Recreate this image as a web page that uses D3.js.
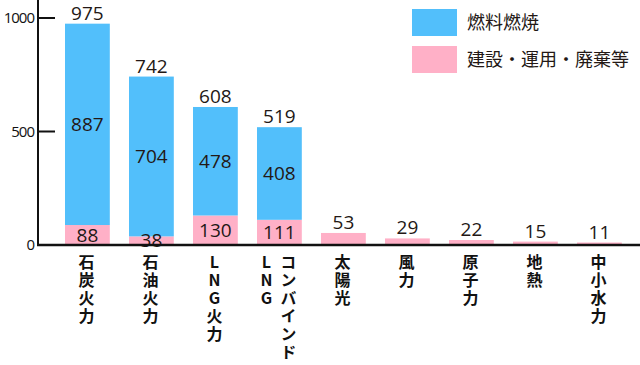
<!DOCTYPE html>
<html>
<head>
<meta charset="utf-8">
<script src="https://cdn.jsdelivr.net/npm/d3@7"></script>
<style>
  body { margin: 0; background: #fff; }
  svg { display: block; }
</style>
</head>
<body>
<div id="chart"></div>
<script>
// data
const categories = ['石炭火力', '石油火力', 'LNG火力', 'コンバインドLNG', '太陽光', '風力', '原子力', '地熱', '中小水力']
// vertical label columns, right column first (tategaki)
const labelColumns = [['石炭火力'], ['石油火力'], ['LNG火力'], ['コンバインド', 'LNG'], ['太陽光'], ['風力'], ['原子力'], ['地熱'], ['中小水力']]
const construction = [88, 38, 130, 111, 53, 29, 22, 15, 11]
const fuel = [887, 704, 478, 408, 0, 0, 0, 0, 0]
const totals = [975, 742, 608, 519, 53, 29, 22, 15, 11]
const yTicks = [0, 500, 1000]
const seriesNames = ['燃料燃焼', '建設・運用・廃棄等']

const width = 640
const height = 365
const blue = '#52bffb'
const pink = '#ffb0c7'
const numFont = '"Open Sans", "Noto Sans", sans-serif'
const jpFont = '"Noto Sans CJK JP", sans-serif'

const svg = d3.select('#chart').append('svg')
    .attr('width', width)
    .attr('height', height)

const x = d3.scaleBand()
    .domain(categories)
    .range([55.4, 55.4 + 64 * 9])
    .paddingInner(0.3)
    .paddingOuter(0.15)

const y = d3.scaleLinear()
    .domain([0, 1000])
    .range([245, 18])

const rows = categories.map((c, i) => ({ cat: c, construction: construction[i], fuel: fuel[i] }))
const stacked = d3.stack().keys(['construction', 'fuel'])(rows)
const colors = { construction: pink, fuel: blue }

// bars
svg.append('g')
    .selectAll('g')
    .data(stacked)
    .join('g')
    .attr('fill', d => colors[d.key])
    .selectAll('rect')
    .data(d => d.filter(s => s[1] > s[0]))
    .join('rect')
    .attr('x', d => x(d.data.cat))
    .attr('width', x.bandwidth())
    .attr('y', d => y(d[1]))
    .attr('height', d => y(d[0]) - y(d[1]))

// labels inside the stacked bars
const inner = svg.append('g')
    .attr('font-family', numFont)
    .attr('font-size', 19)
    .attr('font-weight', 500)
    .attr('fill', '#231815')
    .attr('text-anchor', 'middle')

rows.forEach((r, i) => {
    if (r.fuel === 0) return
    const cx = x(r.cat) + x.bandwidth() / 2
    inner.append('text')
        .attr('x', cx)
        .attr('y', (y(0) + y(r.construction)) / 2)
        .attr('dy', '0.35em')
        .text(r.construction)
    inner.append('text')
        .attr('x', cx)
        .attr('y', (y(r.construction) + y(r.construction + r.fuel)) / 2)
        .attr('dy', '0.35em')
        .text(r.fuel)
})

// totals above bars
svg.append('g')
    .attr('font-family', numFont)
    .attr('font-size', 19)
    .attr('font-weight', 500)
    .attr('fill', '#231815')
    .attr('text-anchor', 'middle')
    .selectAll('text')
    .data(categories)
    .join('text')
    .attr('x', d => x(d) + x.bandwidth() / 2)
    .attr('y', (d, i) => y(totals[i]) - 4)
    .text((d, i) => totals[i])

// axes
svg.append('line')
    .attr('x1', 38).attr('x2', 38)
    .attr('y1', 0).attr('y2', y(0) + 1)
    .attr('stroke', '#111').attr('stroke-width', 2)

svg.append('line')
    .attr('x1', 37).attr('x2', width)
    .attr('y1', y(0)).attr('y2', y(0))
    .attr('stroke', '#111').attr('stroke-width', 2.5)

const yAxis = svg.append('g')
yAxis.selectAll('line')
    .data(yTicks.filter(t => t > 0))
    .join('line')
    .attr('x1', 37).attr('x2', 55)
    .attr('y1', d => y(d)).attr('y2', d => y(d))
    .attr('stroke', '#111').attr('stroke-width', 2)

yAxis.selectAll('text')
    .data(yTicks)
    .join('text')
    .attr('x', 34)
    .attr('y', d => y(d))
    .attr('dy', '0.35em')
    .attr('text-anchor', 'end')
    .attr('font-family', numFont)
    .attr('font-size', 15)
    .attr('letter-spacing', -1)
    .attr('fill', '#111')
    .text(d => d)

// vertical category labels (tategaki, one text per column)
const xLabels = svg.append('g')
    .attr('font-family', jpFont)
    .attr('font-weight', 'bold')
    .attr('font-size', 16)
    .attr('fill', '#111')

labelColumns.forEach((cols, i) => {
    const cx = x(categories[i]) + x.bandwidth() / 2 - 1
    cols.forEach((col, j) => {
        const colX = cols.length > 1 ? cx + 10 - j * 22 : cx
        xLabels.append('text')
            .attr('x', colX)
            .attr('y', 254)
            .style('writing-mode', 'vertical-rl')
            .style('text-orientation', 'upright')
            .style('letter-spacing', '2px')
            .text(col)
    })
})

// legend
const legend = svg.append('g')
    .selectAll('g')
    .data(seriesNames)
    .join('g')
    .attr('transform', (d, i) => `translate(412, ${9 + i * 37})`)

legend.append('rect')
    .attr('width', 45)
    .attr('height', 27)
    .attr('fill', (d, i) => i === 0 ? blue : pink)

legend.append('text')
    .attr('x', 55)
    .attr('y', 13.5)
    .attr('dy', '0.35em')
    .attr('font-family', jpFont)
    .attr('font-size', 18)
    .attr('fill', '#231815')
    .text(d => d)
</script>
</body>
</html>
